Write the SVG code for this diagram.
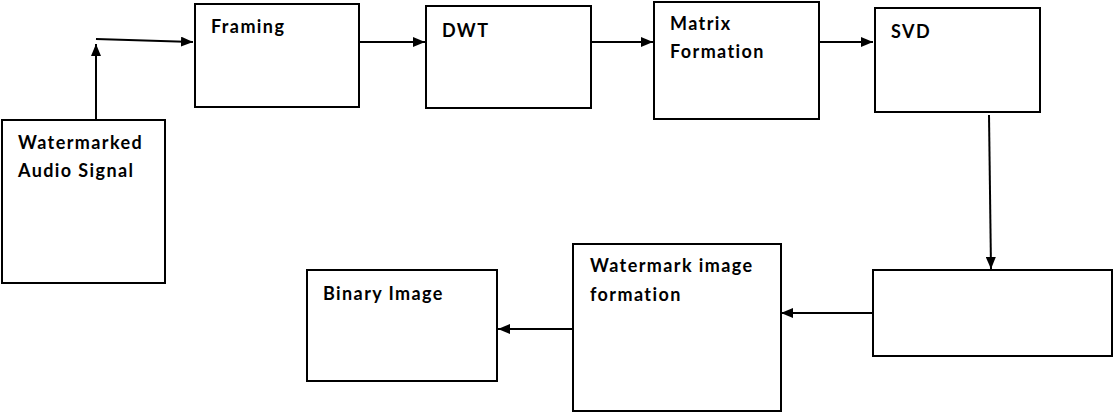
<svg xmlns="http://www.w3.org/2000/svg" width="1114" height="413" viewBox="0 0 1114 413">
<style>
.box{fill:#fff;stroke:#000;stroke-width:2}
.lbl{font-family:Lato,"Liberation Sans",sans-serif;font-weight:bold;font-size:18px;letter-spacing:1.4px;fill:#000}
.con{fill:none;stroke:#000;stroke-width:2}
</style>
<defs>
<marker id="ah" markerWidth="12" markerHeight="10" refX="12" refY="5" orient="auto" markerUnits="userSpaceOnUse">
<path d="M0,0 L12,5 L0,10 Z" fill="#000"/>
</marker>
</defs>
<rect width="1114" height="413" fill="#fff"/>
<g id="n-audio"><rect class="box" x="2" y="120" width="163" height="163"/><text class="lbl" x="18" y="149">Watermarked</text><text class="lbl" x="18" y="177">Audio Signal</text></g>
<g id="n-framing"><rect class="box" x="195" y="4" width="164" height="103"/><text class="lbl" x="211" y="33">Framing</text></g>
<g id="n-dwt"><rect class="box" x="426" y="6" width="165" height="102"/><text class="lbl" x="442" y="37">DWT</text></g>
<g id="n-matrix"><rect class="box" x="654" y="2" width="165" height="117"/><text class="lbl" x="670" y="30">Matrix</text><text class="lbl" x="670" y="58">Formation</text></g>
<g id="n-svd"><rect class="box" x="875" y="8" width="165" height="104"/><text class="lbl" x="891" y="38">SVD</text></g>
<g id="n-empty"><rect class="box" x="873" y="270" width="239" height="86"/></g>
<g id="n-wif"><rect class="box" x="573" y="244" width="208" height="167"/><text class="lbl" x="590" y="272">Watermark image</text><text class="lbl" x="590" y="301">formation</text></g>
<g id="n-binary"><rect class="box" x="307" y="270" width="190" height="111"/><text class="lbl" x="323" y="300">Binary Image</text></g>
<g id="connectors">
<line class="con" x1="96" y1="120" x2="96" y2="44" marker-end="url(#ah)"/>
<line class="con" x1="96" y1="39" x2="193" y2="42" marker-end="url(#ah)"/>
<line class="con" x1="359" y1="42" x2="425" y2="42" marker-end="url(#ah)"/>
<line class="con" x1="591" y1="42" x2="653" y2="42" marker-end="url(#ah)"/>
<line class="con" x1="819" y1="42" x2="873" y2="42" marker-end="url(#ah)"/>
<line class="con" x1="989" y1="115" x2="991" y2="269" marker-end="url(#ah)"/>
<line class="con" x1="873" y1="313" x2="781" y2="313" marker-end="url(#ah)"/>
<line class="con" x1="573" y1="329" x2="498" y2="329" marker-end="url(#ah)"/>
</g>
</svg>
